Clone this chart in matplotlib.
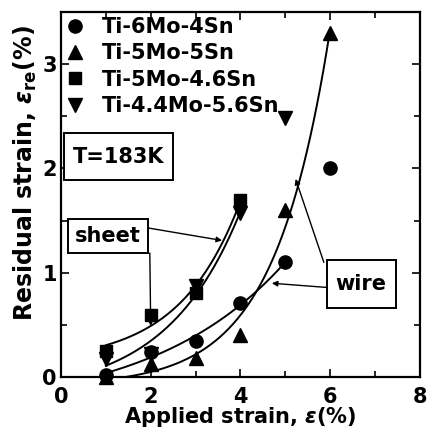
import matplotlib
matplotlib.use("Agg")
import matplotlib.pyplot as plt
from matplotlib.patches import Rectangle
import numpy as np

plt.rcParams['font.family'] = ['DejaVu Sans']
plt.rcParams['font.weight'] = 'bold'
plt.rcParams['axes.labelweight'] = 'bold'
plt.rcParams['mathtext.fontset'] = 'custom'
plt.rcParams['mathtext.rm'] = 'DejaVu Sans:bold'
plt.rcParams['mathtext.it'] = 'DejaVu Sans:bold:italic'

# datos
strain = [1, 2, 3, 4, 5, 6]
ti_6mo_4sn = [0.02, 0.24, 0.35, 0.71, 1.10, 2.00]
ti_5mo_5sn = [0.0, 0.13, 0.18, 0.40, 1.60, 3.30]
strain_sq = [1, 2, 3, 4]
ti_5mo_46sn = [0.25, 0.60, 0.81, 1.70]
strain_dt = [1, 2, 3, 4, 5]
ti_44mo_56sn = [0.17, 0.22, 0.87, 1.57, 2.48]

labels = ['Ti-6Mo-4Sn', 'Ti-5Mo-5Sn', 'Ti-5Mo-4.6Sn', 'Ti-4.4Mo-5.6Sn']


# ajuste y = c + a*exp(b*x)
def ajusteExp(x, y):
    x = np.asarray(x, float)
    y = np.asarray(y, float)
    melhor = None
    for b in np.linspace(0.05, 3, 600):
        A = np.column_stack([np.ones_like(x), np.exp(b * x)])
        coef, *_ = np.linalg.lstsq(A, y, rcond=None)
        r = np.sum((A @ coef - y) ** 2)
        if melhor is None or r < melhor[0]:
            melhor = (r, b, coef)
    _, b, (c, a) = melhor
    return lambda t: c + a * np.exp(b * t)


fig = plt.figure(figsize=(4.28, 4.37), dpi=100)
ax = fig.add_axes([0.1425, 0.137, 0.8385, 0.8355])

ms = 9.5
ax.plot(strain, ti_6mo_4sn, 'o', color='k', ms=ms, clip_on=False, label=labels[0])
ax.plot(strain, ti_5mo_5sn, '^', color='k', ms=ms, clip_on=False, label=labels[1])
ax.plot(strain_sq, ti_5mo_46sn, 's', color='k', ms=ms - 1, clip_on=False, label=labels[2])
ax.plot(strain_dt, ti_44mo_56sn, 'v', color='k', ms=ms, clip_on=False, label=labels[3])

# curvas ajustadas
f1 = ajusteExp(strain[:5], ti_6mo_4sn[:5])
t = np.linspace(1, 5, 200)
ax.plot(t, f1(t), 'k-', lw=1.4)
f2 = ajusteExp(strain, ti_5mo_5sn)
t = np.linspace(1, 6, 200)
ax.plot(t, f2(t), 'k-', lw=1.4)
f3 = ajusteExp(strain_sq, ti_5mo_46sn)
t = np.linspace(1, 4, 200)
ax.plot(t, f3(t), 'k-', lw=1.4)
f4 = ajusteExp(strain_dt[:4], ti_44mo_56sn[:4])
ax.plot(t, f4(t), 'k-', lw=1.4)

ax.set_xlim(0, 8)
ax.set_ylim(0, 3.5)
ax.set_xticks([0, 2, 4, 6, 8])
ax.set_xticks([1, 3, 5, 7], minor=True)
ax.set_yticks([0, 1, 2, 3])
ax.set_yticks([0.5, 1.5, 2.5], minor=True)
ax.tick_params(which='both', direction='in', top=True, right=True, width=1.2,
               labelsize=15)
ax.tick_params(axis='x', pad=7)
ax.tick_params(axis='y', pad=3)
ax.tick_params(which='major', length=6)
ax.tick_params(which='minor', length=4)
for s in ax.spines.values():
    s.set_linewidth(1.6)

ax.set_xlabel(r'Applied strain, $\mathit{ε}$(%)', fontsize=15, labelpad=-1)
ax.set_ylabel(r'Residual strain, $\mathit{ε}_{\mathrm{re}}$(%)', fontsize=17)
ax.yaxis.set_label_coords(-0.06, 0.56)

ax.legend(loc='upper left', frameon=False, numpoints=1, fontsize=15,
          handlelength=0.8, handletextpad=0.9, labelspacing=0.3,
          borderaxespad=0.1, borderpad=0.15)

# caixas de texto
caixas = [((0.07, 1.89), 2.42, 0.45), ((0.16, 1.19), 1.78, 0.33), ((5.92, 0.66), 1.54, 0.46)]
for (x0, y0), w, h in caixas:
    ax.add_patch(Rectangle((x0, y0), w, h, fc='white', ec='k', lw=1.4, zorder=3))
ax.text(1.28, 2.11, 'T=183K', fontsize=15, ha='center', va='center', zorder=4)
ax.text(1.05, 1.35, 'sheet', fontsize=15, ha='center', va='center', zorder=4)
ax.text(6.69, 0.89, 'wire', fontsize=15, ha='center', va='center', zorder=4)

seta = dict(arrowstyle='-|>', color='k', lw=1.0, mutation_scale=8, shrinkA=0, shrinkB=0)
ax.annotate('', xy=(2.0, f3(2.0)), xytext=(1.98, 1.19), arrowprops=seta)
ax.annotate('', xy=(3.59, 1.31), xytext=(1.94, 1.43), arrowprops=seta)
ax.annotate('', xy=(5.23, 1.90), xytext=(5.86, 1.10), arrowprops=seta)
ax.annotate('', xy=(4.70, 0.90), xytext=(5.92, 0.86), arrowprops=seta)

fig.savefig('out.png', dpi=100)
